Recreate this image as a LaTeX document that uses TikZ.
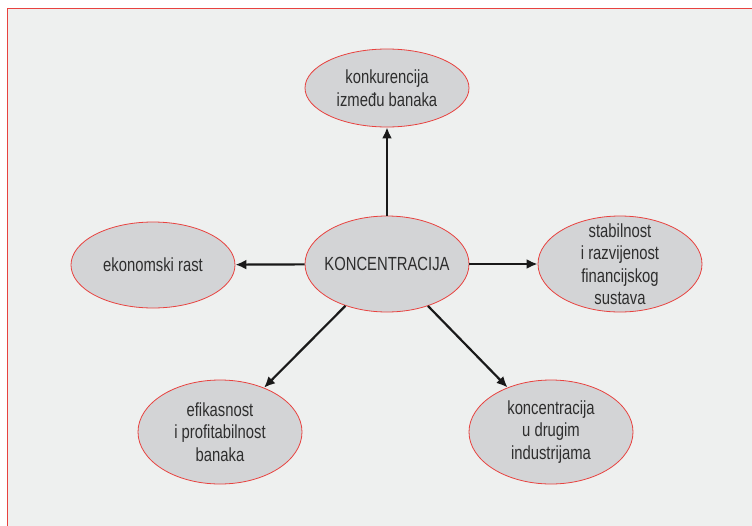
\documentclass[tikz,border=0pt]{standalone}
\usepackage{fontspec}
\setmainfont{Liberation Sans}[FakeStretch=0.78]
\usetikzlibrary{arrows.meta,shapes.geometric}
\definecolor{framered}{HTML}{E8423F}
\definecolor{panelgray}{HTML}{EEF0EF}
\definecolor{bubblegray}{HTML}{D3D4D6}
\definecolor{inkgray}{HTML}{2E2E2E}

\begin{document}
\begin{tikzpicture}[
	x=1pt, y=-1pt,
	bubble/.style={ellipse, fill=bubblegray, draw=framered, line width=0.8pt, minimum width=164pt, align=center, inner xsep=-15pt, inner ysep=-20pt, text=inkgray, font=\fontsize{19}{22.5}\selectfont},
	link/.style={-{Latex[length=11pt,width=10pt]}, line width=2.2pt, black!90},
]

\clip (0,0) rectangle (752,525);
%%% PANEL
\fill [white] (0,0) rectangle (752,525);
\draw [fill=panelgray, draw=framered, line width=1pt] (7,8) rectangle (770,540);

%%% BUBBLES
\node [bubble, minimum height=96pt] (konc) at (387,264) {KONCENTRACIJA};
\node [bubble, minimum height=78pt] (konk) at (387,88) {konkurencija\\izme\dj u banaka};
\node [bubble, minimum height=86pt] (rast) at (153,265) {ekonomski rast};
\node [bubble, minimum height=96pt] (stab) at (620,264) {stabilnost\\i razvijenost\\financijskog\\sustava};
\node [bubble, minimum height=104pt] (efik) at (220,432) {efikasnost\\i profitabilnost\\banaka};
\node [bubble, minimum height=104pt] (indu) at (551,432) {koncentracija\\u drugim\\industrijama};

%%% ARROWS
\draw [link] (konc) -- (konk);
\draw [link] (konc) -- (rast);
\draw [link] (konc) -- (stab);
\draw [link] (konc) -- (efik);
\draw [link] (konc) -- (indu);

\end{tikzpicture}
\end{document}
